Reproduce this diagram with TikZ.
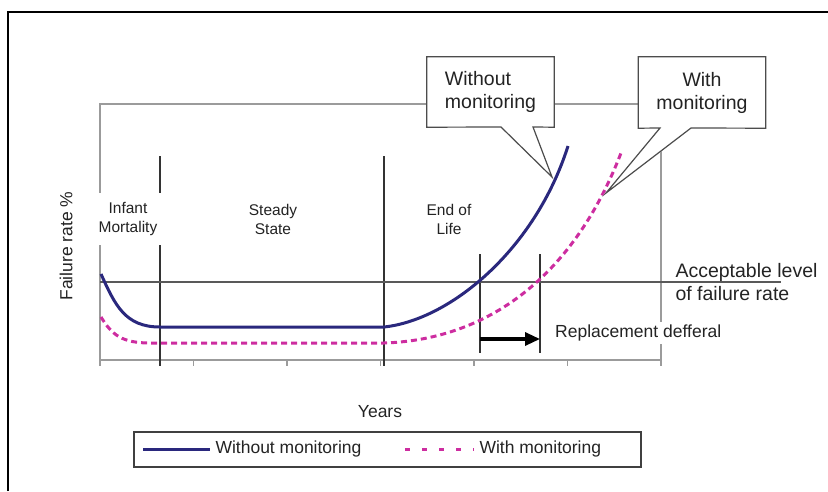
\documentclass[tikz,border=0pt]{standalone}
\usepackage{fontspec}
\setmainfont{Liberation Sans}
\usepackage{xcolor}
\usetikzlibrary{arrows.meta}
\definecolor{navyline}{RGB}{42,40,125}
\definecolor{pinkline}{RGB}{205,45,160}
\definecolor{framegray}{RGB}{155,155,155}
\definecolor{textgray}{RGB}{35,35,35}
\newcommand{\labelsize}{\fontsize{17.5}{21}\selectfont}
\newcommand{\boxsize}{\fontsize{19.5}{23}\selectfont}
\newcommand{\phasesize}{\fontsize{15.5}{19}\selectfont}

\begin{document}
\begin{tikzpicture}[x=1pt,y=-1pt]
    \useasboundingbox (0,0) rectangle (828,491);

    % outer frame and plot area
    \draw[black,line width=1.2pt] (8,491) -- (8,12) -- (828,12);
    \draw[framegray,line width=1.4pt] (100,104) rectangle (661,360);
    \foreach \x in {0,...,6}
        \draw[framegray,line width=1.4pt] (100+93.5*\x,360) -- (100+93.5*\x,366);

    % phase dividers
    \begin{scope}[every path/.style={draw=black!80,line width=1.4pt}]
        \draw (160,156) -- (160,366);
        \draw (384,156) -- (384,366);
        \draw (480,254) -- (480,353);
        \draw (540,254) -- (540,353);
    \end{scope}
    \coordinate (limA) at (100,282);
    \coordinate (limB) at (781,282);
    \draw[black!65,line width=2.4pt] (limA) -- (limB);

    % failure rate curves
    \draw[navyline,line width=3pt,line join=round]
        (101,274) .. controls (115,305) and (125,327) .. (160,327) -- (384,327)
        .. controls (450,320) and (535,250) .. (568,146);
    \draw[pinkline,line width=3pt,dash pattern=on 6pt off 4pt]
        (101,317) .. controls (112,335) and (122,343) .. (150,343) -- (384,343)
        .. controls (480,340) and (570,285) .. (621,153);

    % labels
    \begin{scope}[every node/.style={text=textgray,align=center}]
        \node[fill=white,inner xsep=6pt,inner ysep=9pt,font=\phasesize] (infant) at (128,219) {Infant\\Mortality};
        \node[font=\phasesize] (steady) at (273,219) {Steady\\State};
        \node[font=\phasesize] (endlife) at (449,219) {End of\\Life};
        \node[font=\labelsize,rotate=90] (ylabel) at (66,246) {Failure rate \%};
        \node[font=\labelsize] (years) at (380,412) {Years};
        \node[font=\boxsize,align=left,anchor=west] (limit) at (672,282) {Acceptable level\\of failure rate};
        \node[fill=white,font=\labelsize,anchor=west,inner xsep=3pt] (deferral) at (552,333) {Replacement defferal};
    \end{scope}

    % deferral arrow
    \coordinate (defA) at (480,339);
    \coordinate (defB) at (540,339);
    \path[-{Triangle[length=15pt,width=13pt]}] (defA) edge[draw=black,line width=3.2pt] (defB);

    % callouts
    \begin{scope}[every node/.style={fill=white,minimum width=127pt,minimum height=70pt,
            font=\boxsize,text=textgray}]
        \node[align=left] (wobox) at (490.5,92) {Without\\monitoring};
        \node[align=center,minimum height=71pt] (wbox) at (702,92.5) {With\\monitoring};
    \end{scope}
    \coordinate (wotip) at (552,177);
    \coordinate (woA) at (501,127);
    \coordinate (woB) at (533,127);
    \coordinate (wtip) at (606,193);
    \coordinate (wA) at (660,128);
    \coordinate (wB) at (691,128);
    \begin{scope}[every path/.style={draw=black!70,line width=1.2pt,line join=miter}]
        \fill[white] (woA) -- (wotip) -- (woB) -- cycle;
        \fill[white] (wA) -- (wtip) -- (wB) -- cycle;
        \draw (wobox.south west) -- (wobox.north west) -- (wobox.north east) -- (wobox.south east)
            -- (woB) -- (wotip) -- (woA) -- cycle;
        \draw (wbox.south west) -- (wbox.north west) -- (wbox.north east) -- (wbox.south east)
            -- (wB) -- (wtip) -- (wA) -- cycle;
    \end{scope}

    % legend
    \node[draw=black!75,line width=1.3pt,minimum width=507pt,minimum height=35pt] (legend) at (387.5,449.5) {};
    \coordinate (keyA) at (143,449);
    \coordinate (keyB) at (210,449);
    \coordinate (keyC) at (405,449);
    \coordinate (keyD) at (474,449);
    \draw[navyline,line width=3pt] (keyA) -- (keyB);
    \draw[pinkline,line width=3pt,dash pattern=on 5pt off 12pt] (keyC) -- (keyD);
    \node[anchor=west,font=\labelsize,text=textgray] (keyWO) at (212,449) {Without monitoring};
    \node[anchor=west,font=\labelsize,text=textgray] (keyW) at (476,449) {With monitoring};
\end{tikzpicture}
\end{document}
